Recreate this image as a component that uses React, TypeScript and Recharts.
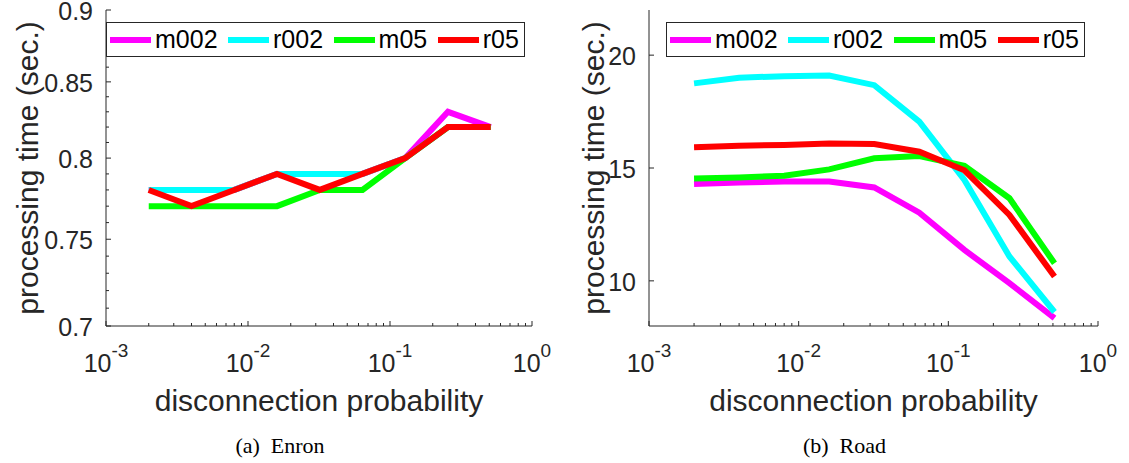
import React from 'react';
import { LineChart, Line, XAxis, YAxis, Legend } from 'recharts';

// disconnection probability (x, log scale)
const probabilities = [0.002, 0.004, 0.008, 0.016, 0.032, 0.064, 0.128, 0.256, 0.512];

// (a) Enron, processing time (sec.)
const enronM002 = [0.78, 0.78, 0.78, 0.79, 0.79, 0.79, 0.8, 0.83, 0.82];
const enronR002 = [0.78, 0.78, 0.78, 0.79, 0.79, 0.79, 0.8, 0.82, 0.82];
const enronM05 = [0.77, 0.77, 0.77, 0.77, 0.78, 0.78, 0.8, 0.82, 0.82];
const enronR05 = [0.78, 0.77, 0.78, 0.79, 0.78, 0.79, 0.8, 0.82, 0.82];

// (b) Road, processing time (sec.)
const roadM002 = [14.29, 14.36, 14.4, 14.4, 14.14, 13.02, 11.37, 9.9, 8.35];
const roadR002 = [18.75, 19.0, 19.07, 19.1, 18.67, 17.05, 14.47, 11.08, 8.62];
const roadM05 = [14.54, 14.58, 14.66, 14.94, 15.43, 15.53, 15.1, 13.66, 10.78];
const roadR05 = [15.92, 15.99, 16.02, 16.09, 16.06, 15.72, 14.9, 12.92, 10.19];

const seriesNames = ['m002', 'r002', 'm05', 'r05'];
const seriesColors = ['#ff00ff', '#00ffff', '#00ff00', '#ff0000'];

// tick values
const logTicks = [
  0.001, 0.002, 0.003, 0.004, 0.005, 0.006, 0.007, 0.008, 0.009,
  0.01, 0.02, 0.03, 0.04, 0.05, 0.06, 0.07, 0.08, 0.09,
  0.1, 0.2, 0.3, 0.4, 0.5, 0.6, 0.7, 0.8, 0.9,
  1,
];
const enronTicks = [0.7, 0.75, 0.8, 0.85, 0.9];
const enronMinorTicks = [
  0.71, 0.72, 0.73, 0.74, 0.76, 0.77, 0.78, 0.79,
  0.81, 0.82, 0.83, 0.84, 0.86, 0.87, 0.88, 0.89,
];
const roadTicks = [10, 15, 20];

const AXIS = '#262626';
const SANS = '"Liberation Sans", Arial, Helvetica, sans-serif';
const SERIF = '"Liberation Serif", "Times New Roman", serif';

const buildRows = (series: number[][]) =>
  probabilities.map((p, i) => {
    const row: Record<string, number> = { p };
    seriesNames.forEach((name, s) => {
      row[name] = series[s][i];
    });
    return row;
  });

const enronData = buildRows([enronM002, enronR002, enronM05, enronR05]);
const roadData = buildRows([roadM002, roadR002, roadM05, roadR05]);

const isDecade = (v: number) => Math.abs(Math.log10(v) - Math.round(Math.log10(v))) < 1e-6;

// bottom log axis: inward tick + 10^k label
const BottomLogTick = (props: any) => {
  const { x, y, payload } = props;
  const major = isDecade(payload.value);
  const exp = Math.round(Math.log10(payload.value));
  return (
    <g>
      <line x1={x} x2={x} y1={y} y2={y - (major ? 5 : 3)} stroke={AXIS} />
      {major && (
        <text x={x} y={y + 46} textAnchor="middle" fill={AXIS} fontSize={25} fontFamily={SANS}>
          10
          <tspan dy={-15} fontSize={19}>{exp}</tspan>
        </text>
      )}
    </g>
  );
};

const TopLogTick = (props: any) => {
  const { x, y, payload } = props;
  const major = isDecade(payload.value);
  return <line x1={x} x2={x} y1={y} y2={y + (major ? 5 : 3)} stroke={AXIS} />;
};

const makeYTick = (majors: number[], side: 'left' | 'right') => (props: any) => {
  const { x, y, payload } = props;
  const major = majors.includes(payload.value);
  const len = major ? 5 : 3;
  const dir = side === 'left' ? 1 : -1;
  return (
    <g>
      <line x1={x} x2={x + dir * len} y1={y} y2={y} stroke={AXIS} />
      {major && side === 'left' && (
        <text x={x - 13} y={y} dy="0.4em" textAnchor="end" fill={AXIS} fontSize={25} fontFamily={SANS}>
          {String(payload.value)}
        </text>
      )}
    </g>
  );
};

// Boxed legend like the MATLAB one, kept in series order
const BoxLegend = ({ payload }: any) => {
  const items = [...(payload || [])].sort(
    (a: any, b: any) => seriesNames.indexOf(a.value) - seriesNames.indexOf(b.value)
  );
  return (
    <div
      style={{
        display: 'inline-flex',
        alignItems: 'center',
        height: 33,
        border: `1px solid ${AXIS}`,
        background: '#fff',
        paddingLeft: 3,
        paddingRight: 5,
        fontFamily: SANS,
        fontSize: 25,
        color: '#000',
        whiteSpace: 'nowrap',
      }}
    >
      {items.map((entry: any, i: number) => (
        <div key={`legend-${i}`} style={{ display: 'flex', alignItems: 'center', marginLeft: i ? 10.5 : 0 }}>
          <div style={{ width: 41, height: 6, background: entry.color }} />
          <span style={{ marginLeft: 4, lineHeight: '25px' }}>{entry.value}</span>
        </div>
      ))}
    </div>
  );
};

type PanelProps = {
  left: number;
  width: number;
  marginLeft: number;
  marginRight: number;
  data: Record<string, number>[];
  yScale: 'log' | 'linear';
  yDomain: [number, number];
  yTicks: number[];
  yMajors: number[];
  yTitleX: number;
  caption: string;
};

const Panel = ({ left, width, marginLeft, marginRight, data, yScale, yDomain, yTicks, yMajors, yTitleX, caption }: PanelProps) => {
  const height = 463;
  const plotLeft = marginLeft + 60;
  const plotRight = width - marginRight;
  const plotCenter = (plotLeft + plotRight) / 2;
  return (
    <div style={{ position: 'absolute', left, top: 0, width, height }}>
      <LineChart width={width} height={height} data={data} margin={{ top: 10, right: marginRight, bottom: 77, left: marginLeft }}>
        <XAxis
          dataKey="p"
          type="number"
          scale="log"
          domain={[0.001, 1]}
          allowDataOverflow
          ticks={logTicks}
          interval={0}
          height={60}
          tickSize={0}
          tickMargin={0}
          tickLine={false}
          axisLine={{ stroke: AXIS }}
          tick={<BottomLogTick />}
        />
        <XAxis
          xAxisId="top"
          orientation="top"
          dataKey="p"
          type="number"
          scale="log"
          domain={[0.001, 1]}
          allowDataOverflow
          ticks={logTicks}
          interval={0}
          height={0}
          tickSize={0}
          tickMargin={0}
          tickLine={false}
          axisLine={{ stroke: AXIS }}
          tick={<TopLogTick />}
        />
        <YAxis
          type="number"
          scale={yScale}
          domain={yDomain}
          allowDataOverflow
          ticks={yTicks}
          interval={0}
          width={60}
          tickSize={0}
          tickMargin={0}
          tickLine={false}
          axisLine={{ stroke: AXIS }}
          tick={makeYTick(yMajors, 'left')}
        />
        <YAxis
          yAxisId="right"
          orientation="right"
          type="number"
          scale={yScale}
          domain={yDomain}
          allowDataOverflow
          ticks={yTicks}
          interval={0}
          width={0}
          tickSize={0}
          tickMargin={0}
          tickLine={false}
          axisLine={{ stroke: AXIS }}
          tick={makeYTick(yMajors, 'right')}
        />
        <Legend
          layout="horizontal"
          verticalAlign="middle"
          align="center"
          content={<BoxLegend />}
          wrapperStyle={{ left: 106, top: 22, width: 'auto', height: 'auto' }}
        />
        {seriesNames.map((name, i) => (
          <Line
            key={name}
            type="linear"
            dataKey={name}
            name={name}
            stroke={seriesColors[i]}
            strokeWidth={6}
            dot={false}
            activeDot={false}
            isAnimationActive={false}
          />
        ))}
      </LineChart>
      <svg width={width} height={height} style={{ position: 'absolute', left: 0, top: 0, pointerEvents: 'none' }}>
        <text
          x={yTitleX}
          y={168}
          transform={`rotate(-90 ${yTitleX} 168)`}
          textAnchor="middle"
          dominantBaseline="central"
          fill={AXIS}
          fontSize={30}
          fontFamily={SANS}
        >
          processing time (sec.)
        </text>
        <text x={plotCenter} y={411} textAnchor="middle" fill={AXIS} fontSize={30} fontFamily={SANS}>
          disconnection probability
        </text>
        <text x={width / 2} y={453} textAnchor="middle" fill="#000" fontSize={22} fontFamily={SERIF} style={{ whiteSpace: 'pre' }}>
          {caption}
        </text>
      </svg>
    </div>
  );
};

export default function App() {
  return (
    <div style={{ position: 'absolute', left: 0, top: 0, width: 1129, height: 463, background: '#fff' }}>
      <Panel
        left={0}
        width={560}
        marginLeft={46}
        marginRight={28}
        data={enronData}
        yScale="log"
        yDomain={[0.7, 0.9]}
        yTicks={[...enronTicks, ...enronMinorTicks]}
        yMajors={enronTicks}
        yTitleX={27}
        caption="(a)  Enron"
      />
      <Panel
        left={560}
        width={569}
        marginLeft={29}
        marginRight={31}
        data={roadData}
        yScale="linear"
        yDomain={[8, 22]}
        yTicks={roadTicks}
        yMajors={roadTicks}
        yTitleX={33}
        caption="(b)  Road"
      />
    </div>
  );
}
